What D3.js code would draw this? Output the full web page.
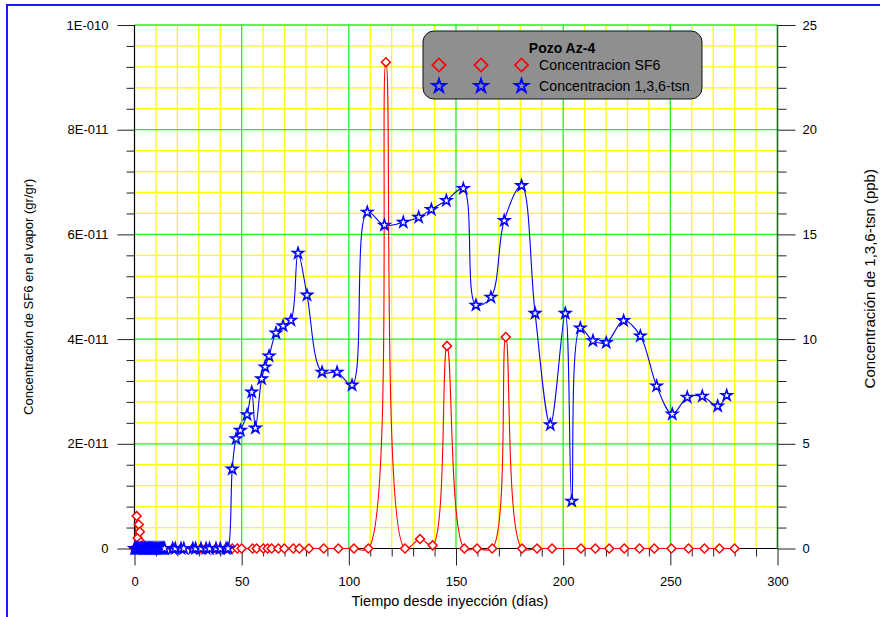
<!DOCTYPE html>
<html><head><meta charset="utf-8">
<script src="https://cdn.jsdelivr.net/npm/d3@7/dist/d3.min.js"></script>
<style>body{margin:0;background:#fff}svg{display:block;font-family:"Liberation Sans",Arial,sans-serif}</style>
</head><body>
<svg id="c" width="880" height="617"></svg>
<script>
// SF6 concentration (units of 1E-11 gr/gr) vs days
const sf6Days = [0,1,1.5,2,2.5,3,3.5,4.5,5.5,6.5,7.5,8.5,10,11.5,13,17.8,21.7,27.2,31,33.4,38,42.7,45.6,48,50,55.1,57,60.1,62.1,64,67.1,69.9,74.1,76.9,81.4,88.3,95.1,102.4,109.1,117.3,126.2,133.2,139.1,145.8,153.9,159.8,166.9,173.2,180.8,187.8,194.8,208.3,215,221.5,228.5,235.6,242.5,250.5,258.5,265.9,272.9,280];
const sf6Vals = [0,0.62,0.2,0.46,0.32,0.12,0.05,0.02,0,0,0,0,0,0,0,0,0,0,0,0,0,0,0,0,0,0,0,0,0,0,0,0,0,0,0,0,0,0,0,9.29,0,0.18,0.06,3.87,0,0,0,4.04,0,0,0,0,0,0,0,0,0,0,0,0,0,0];
// 1,3,6-tsn concentration (ppb) vs days
const tsnDays = [0,0.5,1,1.5,2,2.5,3,3.5,4,4.5,5,5.5,6,6.5,7,7.5,8,8.5,9,9.5,10,10.5,11,11.5,12,12.5,13,13.5,14,17.8,19,21.7,23,27.2,28.5,31,33.4,35,38,40,42.7,43.6,45.6,47.4,49.4,52.5,54.7,56.4,59.3,60.9,62.8,66.0,69.3,73.0,76.3,80.5,87.5,94.5,101.5,108.6,116.6,125.4,132.6,138.5,145.5,153.4,159.3,166.3,172.5,180.6,186.9,194.0,201.0,204.0,208.0,213.9,220.1,228.2,236.0,243.6,250.9,257.9,264.9,272.1,276.3];
const tsnVals = [0,0,0,0,0,0,0,0,0,0,0,0,0,0,0,0,0,0,0,0,0,0,0,0,0,0,0,0,0,0,0,0,0,0,0,0,0,0,0,0,0,0,3.79,5.24,5.64,6.39,7.47,5.75,8.1,8.67,9.19,10.29,10.63,10.9,14.1,12.1,8.42,8.42,7.8,16.06,15.44,15.58,15.82,16.19,16.62,17.19,11.62,12.0,15.66,17.33,11.23,5.91,11.23,2.26,10.53,9.92,9.83,10.88,10.15,7.76,6.42,7.22,7.27,6.80,7.31];
const xTicks = [0,50,100,150,200,250,300];
const yLeftTicks = [0,2e-11,4e-11,6e-11,8e-11,1e-10];
const yLeftLabels = ["0","2E-011","4E-011","6E-011","8E-011","1E-010"];
const yRightTicks = [0,5,10,15,20,25];
const legendTitle = "Pozo Az-4";
const legendLabels = ["Concentracion SF6","Concentracion 1,3,6-tsn"];

const svg = d3.select("#c");
const L=134.5, R=777.5, T=25, B=548.5;
const x = d3.scaleLinear([0,300],[L,R]);
const yL = d3.scaleLinear([0,1e-10],[B,T]);
const yR = d3.scaleLinear([0,25],[B,T]);

// outer border
svg.append("rect").attr("x",7).attr("y",5).attr("width",890).attr("height",640)
  .attr("fill","#fff").attr("stroke","#1a1aff").attr("stroke-width",2);

// grid
const g = svg.append("g");
const minorX = d3.range(10,300,10).filter(d=>d%50!==0);
const minorY = d3.range(1,25,1).filter(d=>d%5!==0);
g.selectAll(".vx").data(minorX).join("line").attr("x1",d=>x(d)).attr("x2",d=>x(d)).attr("y1",T).attr("y2",B).attr("stroke","#ffff00").attr("stroke-width",1.3);
g.selectAll(".hy").data(minorY).join("line").attr("y1",d=>yR(d)).attr("y2",d=>yR(d)).attr("x1",L).attr("x2",R).attr("stroke","#ffff00").attr("stroke-width",1.3);
g.selectAll(".vX").data([50,100,150,200,250]).join("line").attr("x1",d=>x(d)).attr("x2",d=>x(d)).attr("y1",T).attr("y2",B).attr("stroke","#22ee22").attr("stroke-width",1.3);
g.selectAll(".hY").data([5,10,15,20,25]).join("line").attr("y1",d=>yR(d)).attr("y2",d=>yR(d)).attr("x1",L).attr("x2",R).attr("stroke","#22ee22").attr("stroke-width",1.3);

// axes
function styleAxis(sel){sel.select(".domain").remove();sel.selectAll("line").attr("stroke","#222");sel.selectAll("text").attr("font-size",13).attr("fill","#000").attr("font-family","Liberation Sans, Arial, sans-serif");}
svg.append("g").attr("transform",`translate(${L},0)`)
  .call(d3.axisLeft(yL).tickValues(yLeftTicks).tickFormat((d,i)=>yLeftLabels[i]).tickSize(17).tickPadding(9)).call(styleAxis);
svg.append("g").attr("transform",`translate(${L},0)`)
  .call(d3.axisLeft(yR).tickValues(minorY).tickFormat("").tickSize(8)).call(styleAxis);
svg.append("g").attr("transform",`translate(${R},0)`)
  .call(d3.axisRight(yR).tickValues(yRightTicks).tickSize(18).tickPadding(7)).call(styleAxis);
svg.append("g").attr("transform",`translate(${R},0)`)
  .call(d3.axisRight(yR).tickValues(minorY).tickFormat("").tickSize(9)).call(styleAxis);
svg.append("g").attr("transform",`translate(0,${B})`)
  .call(d3.axisBottom(x).tickValues(xTicks).tickSize(17).tickPadding(11)).call(styleAxis);
svg.append("g").attr("transform",`translate(0,${B})`)
  .call(d3.axisBottom(x).tickValues(minorX).tickFormat("").tickSize(8)).call(styleAxis);
// axis lines
svg.append("line").attr("x1",L).attr("x2",L).attr("y1",T).attr("y2",B).attr("stroke","#000").attr("stroke-width",1.2);
svg.append("line").attr("x1",L).attr("x2",R).attr("y1",B).attr("y2",B).attr("stroke","#000").attr("stroke-width",1.2);
svg.append("line").attr("x1",R).attr("x2",R).attr("y1",T).attr("y2",B).attr("stroke","#1e6a1e").attr("stroke-width",1.6);

// axis titles
svg.append("text").attr("transform",`translate(33,${(T+B)/2+10}) rotate(-90)`).attr("text-anchor","middle").attr("font-size",13).text("Concentración de SF6 en el vapor (gr/gr)");
svg.append("text").attr("transform",`translate(875,${(T+B)/2-8}) rotate(-90)`).attr("text-anchor","middle").attr("font-size",15).text("Concentración de 1,3,6-tsn (ppb)");
svg.append("text").attr("x",450).attr("y",606).attr("text-anchor","middle").attr("font-size",14.5).text("Tiempo desde inyección (días)");

// series
const sf6 = sf6Days.map((d,i)=>[d,sf6Vals[i]*1e-11]);
const tsn = tsnDays.map((d,i)=>[d,tsnVals[i]]);
const crv = d3.curveCatmullRom.alpha(0.5);
const lineL = d3.line().x(d=>x(d[0])).y(d=>yL(d[1])).curve(crv);
const lineR = d3.line().x(d=>x(d[0])).y(d=>yR(d[1])).curve(crv);
svg.append("path").attr("d",lineR(tsn)).attr("fill","none").attr("stroke","#0000ff").attr("stroke-width",1.1);
svg.append("path").attr("d",lineL(sf6)).attr("fill","none").attr("stroke","#ff0000").attr("stroke-width",1.1);

const diamond = d3.symbol(d3.symbolSquare, 40)();
const star = d3.symbol(d3.symbolStar, 36)();
svg.append("g").selectAll("path").data(sf6).join("path").attr("d",diamond)
  .attr("transform",d=>`translate(${x(d[0])},${yL(d[1])}) rotate(45)`)
  .attr("fill","#fff").attr("stroke","#ff0000").attr("stroke-width",1.5);
svg.append("g").selectAll("path").data(tsn).join("path").attr("d",star)
  .attr("transform",d=>`translate(${x(d[0])},${yR(d[1])})`)
  .attr("fill","#fff").attr("stroke","#0000ff").attr("stroke-width",1.6);

// legend
const lg = svg.append("g");
lg.append("rect").attr("x",423).attr("y",31).attr("width",279).attr("height",68).attr("rx",11)
  .attr("fill","#8f8f8f").attr("stroke","#111").attr("stroke-width",1);
lg.append("text").attr("x",562).attr("y",53).attr("text-anchor","middle").attr("font-size",14).attr("font-weight","bold").text(legendTitle);
const mx=[439,481,521.5];
mx.forEach(v=>{
  lg.append("path").attr("d",d3.symbol(d3.symbolSquare,88)()).attr("transform",`translate(${v},65) rotate(45)`).attr("fill","none").attr("stroke","#ff0000").attr("stroke-width",1.7);
  lg.append("path").attr("d",d3.symbol(d3.symbolStar,55)()).attr("transform",`translate(${v},86)`).attr("fill","none").attr("stroke","#0000ff").attr("stroke-width",1.9);
});
lg.append("text").attr("x",539).attr("y",70).attr("font-size",14.2).text(legendLabels[0]);
lg.append("text").attr("x",539).attr("y",91).attr("font-size",14.2).text(legendLabels[1]);
</script>
</body></html>
